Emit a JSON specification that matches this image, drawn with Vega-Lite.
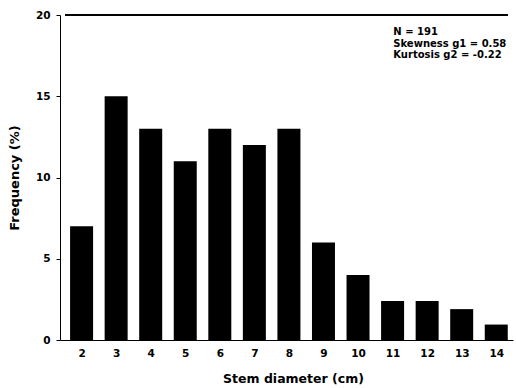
{
  "$schema": "https://vega.github.io/schema/vega-lite/v6.json",
  "width": 453,
  "height": 325,
  "autosize": {"type": "none"},
  "padding": {"left": 60, "top": 15, "right": 3, "bottom": 48},
  "background": "white",
  "config": {
    "view": {"stroke": null},
    "font": "DejaVu Sans",
    "axis": {"domainColor": "black", "tickColor": "black", "labelColor": "black", "titleColor": "black", "grid": false, "labelFontWeight": "bold", "titleFontWeight": "bold", "labelFont": "DejaVu Sans", "titleFont": "DejaVu Sans", "labelOverlap": false}
  },
  "datasets": {
    "bars": [
      {"diameter": 2, "freq": 7},
      {"diameter": 3, "freq": 15},
      {"diameter": 4, "freq": 13},
      {"diameter": 5, "freq": 11},
      {"diameter": 6, "freq": 13},
      {"diameter": 7, "freq": 12},
      {"diameter": 8, "freq": 13},
      {"diameter": 9, "freq": 6},
      {"diameter": 10, "freq": 4},
      {"diameter": 11, "freq": 2.4},
      {"diameter": 12, "freq": 2.4},
      {"diameter": 13, "freq": 1.9},
      {"diameter": 14, "freq": 0.95}
    ],
    "notes": [
      {"diameter": 11.02, "freq": 18.75, "label": "N = 191"},
      {"diameter": 11.02, "freq": 18.05, "label": "Skewness g1 = 0.58"},
      {"diameter": 11.02, "freq": 17.35, "label": "Kurtosis g2 = -0.22"}
    ]
  },
  "encoding": {
    "x": {
      "field": "diameter", "type": "quantitative",
      "scale": {"domain": [1.52, 14.34], "nice": false, "zero": false},
      "axis": {"values": [2,3,4,5,6,7,8,9,10,11,12,13,14], "ticks": false, "labelOverlap": false, "labelFontSize": 10.5, "labelPadding": 8, "title": "Stem diameter (cm)", "titleFontSize": 12.5, "titlePadding": 14, "titleX": 233, "labelFlush": false}
    },
    "y": {
      "field": "freq", "type": "quantitative",
      "scale": {"domain": [0, 20], "nice": false},
      "axis": {"values": [0,5,10,15,20], "tickSize": 4, "labelOverlap": false, "labelFontSize": 10.5, "labelPadding": 6, "title": "Frequency (%)", "titleFontSize": 13, "titlePadding": 14}
    }
  },
  "layer": [
    {
      "data": {"name": "bars"},
      "mark": {"type": "bar", "size": 23, "color": "black"}
    },
    {
      "data": {"name": "notes"},
      "mark": {"type": "text", "align": "left", "baseline": "alphabetic", "fontSize": 10, "fontWeight": "bold", "color": "black", "font": "DejaVu Sans"},
      "encoding": {
        "text": {"field": "label"}
      }
    },
    {
      "data": {"name": "bars"},
      "mark": {"type": "rule", "color": "black", "strokeWidth": 1},
      "encoding": {
        "x": {"datum": 1.52, "type": "quantitative"},
        "x2": {"datum": 14.34},
        "y": {"datum": 20, "type": "quantitative"}
      }
    }
  ]
}
